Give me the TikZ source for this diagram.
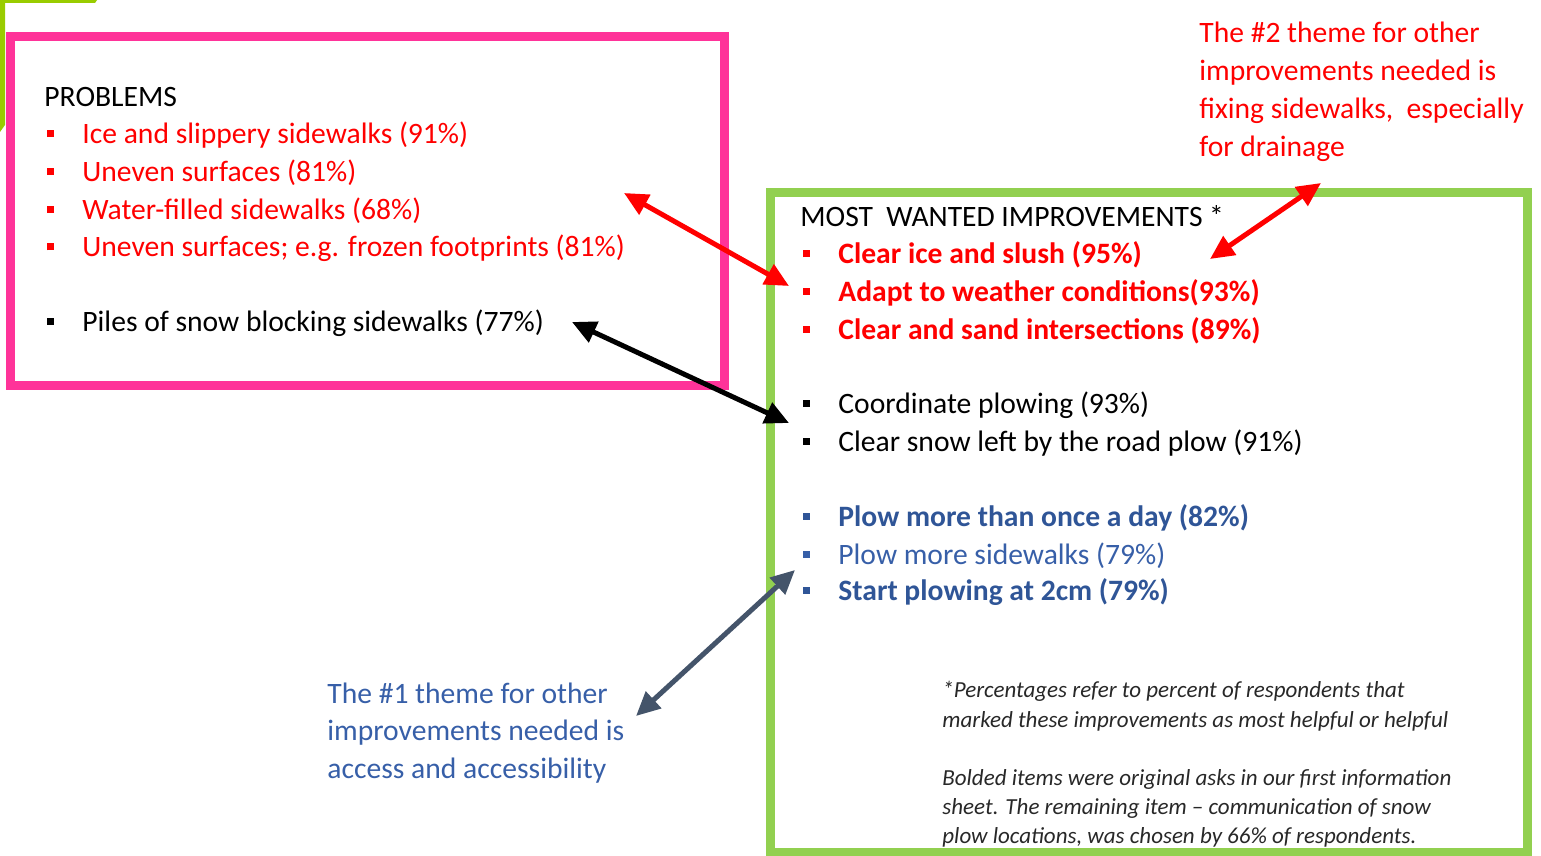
\documentclass[tikz,border=0pt]{standalone}
\usepackage{fontspec}
\setmainfont{Carlito}
\usetikzlibrary{arrows.meta}
\definecolor{framepink}{RGB}{255,51,153}
\definecolor{framegreen}{RGB}{146,208,80}
\definecolor{slidegreen}{RGB}{153,204,0}
\definecolor{itemred}{RGB}{255,0,0}
\definecolor{itemblue}{RGB}{47,85,151}
\definecolor{lightblue}{RGB}{55,95,168}
\definecolor{arrowslate}{RGB}{68,84,106}
\definecolor{notegray}{RGB}{40,40,40}
\tikzset{basic/.style={inner sep=0pt,anchor=base west,
                       font=\fontsize{14.8}{18.9}\selectfont}}
\tikzset{item/.style={basic}}
\tikzset{bolditem/.style={basic,font=\fontsize{14.8}{18.9}\selectfont\bfseries}}
\tikzset{note/.style={basic,font=\fontsize{11.5}{14.5}\selectfont\itshape,text=notegray}}
\tikzset{frame/.style={draw,line width=4.5pt}}
\tikzset{twoway/.style={{Triangle[length=12pt,width=11pt]}-{Triangle[length=12pt,width=11pt]},
                        line width=2.5pt}}
\newcommand{\sqbullet}{\makebox[17.5pt][l]{\rule[3.25pt]{3.5pt}{3.5pt}}}

\begin{document}
\begin{tikzpicture}[x=0.5pt,y=-0.5pt]
    \useasboundingbox (0,0) rectangle (1541,856);
    % Slide corner
    \fill[slidegreen] (0,0) -- (97,0) -- (95,3) -- (5,3) -- (5,125) -- (0,132) -- cycle;
    % Draw frames
    \draw[frame,framepink] (10,37) rectangle (724,385);
    \draw[frame,framegreen] (770,192) rectangle (1527,852);
    % Problems
    \node[item] (prob) at (44,106) {PROBLEMS};
    \foreach \h [count=\hi ] in {Ice and slippery sidewalks (91\%),Uneven surfaces (81\%),
        Water-filled sidewalks (68\%),{Uneven surfaces; e.g. frozen footprints (81\%)}}{%
          \node[item,text=itemred] (p\hi) at (47,106+\hi*37.7) {\sqbullet\h};
        }
    \node[item] (p5) at (47,331) {\sqbullet Piles of snow blocking sidewalks (77\%)};
    % Most wanted improvements
    \node[item] (want) at (800,226) {MOST\ \ WANTED IMPROVEMENTS *};
    \foreach \h [count=\hi ] in {Clear ice and slush (95\%),Adapt to weather conditions(93\%),
        Clear and sand intersections (89\%)}{%
          \node[bolditem,text=itemred] (w\hi) at (803,226+\hi*37.7) {\sqbullet\h};
        }
    \node[item] (w4) at (803,413) {\sqbullet Coordinate plowing (93\%)};
    \node[item] (w5) at (803,451) {\sqbullet Clear snow left by the road plow (91\%)};
    \node[bolditem,text=itemblue] (w6) at (803,526) {\sqbullet Plow more than once a day (82\%)};
    \node[item,text=lightblue] (w7) at (803,564) {\sqbullet Plow more sidewalks (79\%)};
    \node[bolditem,text=itemblue] (w8) at (803,600) {\sqbullet Start plowing at 2cm (79\%)};
    % Footnote
    \foreach \h [count=\hi ] in {*Percentages refer to percent of respondents that,
        marked these improvements as most helpful or helpful}{%
          \node[note] (n\hi) at (942,667+\hi*30) {\h};
        }
    \foreach \h [count=\hi ] in {Bolded items were original asks in our first information,
        sheet. The remaining item -- communication of snow,
        {plow locations, was chosen by 66\% of respondents.}}{%
          \node[note] (m\hi) at (942,756+\hi*29) {\h};
        }
    % Themes
    \foreach \h [count=\hi ] in {The \#2 theme for other,improvements needed is,
        {fixing sidewalks,\ \ especially},for drainage}{%
          \node[basic,text=itemred] (t\hi) at (1199,5.3+\hi*37.7) {\h};
        }
    \foreach \h [count=\hi ] in {The \#1 theme for other,improvements needed is,
        access and accessibility}{%
          \node[basic,text=lightblue] (s\hi) at (327,665.3+\hi*37.7) {\h};
        }
    % Arrow ends
    \coordinate (ra) at (624,193);
    \coordinate (rb) at (789,286);
    \coordinate (ka) at (572,322);
    \coordinate (kb) at (789,423);
    \coordinate (ta) at (1321,183);
    \coordinate (tb) at (1210,259);
    \coordinate (sa) at (795,570);
    \coordinate (sb) at (636,716);
    % Draw arrows
    \draw[twoway,itemred] (ra) -- (rb);
    \draw[twoway,black] (ka) -- (kb);
    \draw[twoway,itemred] (ta) -- (tb);
    \draw[twoway,arrowslate] (sa) -- (sb);
\end{tikzpicture}
\end{document}
